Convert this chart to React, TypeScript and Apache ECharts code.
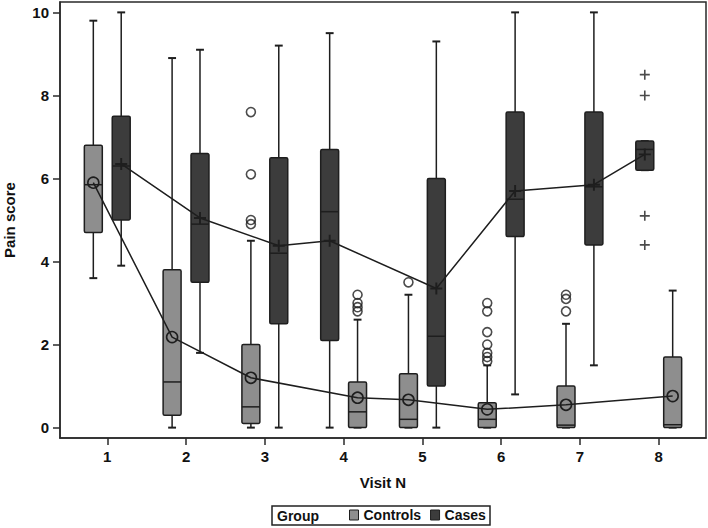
import React, { useEffect, useRef } from "react";
import * as echarts from "echarts";

const visits = [1, 2, 3, 4, 5, 6, 7, 8];
const visitTickLabels = ["1", "2", "3", "4", "5", "6", "7", "8"];
const painTicks = [0, 2, 4, 6, 8, 10];
// true when the Cases box sits to the left of the Controls box at that visit
const casesLeft = [false, false, false, true, false, false, false, true];

const controlsWhiskerLow = [3.6, 0, 0, 0, 0, 0, 0, 0];
const controlsQ1 = [4.7, 0.3, 0.1, 0, 0, 0, 0, 0];
const controlsMedian = [5.85, 1.1, 0.5, 0.38, 0.2, 0.2, 0.06, 0.07];
const controlsQ3 = [6.8, 3.8, 2.0, 1.1, 1.3, 0.6, 1.0, 1.7];
const controlsWhiskerHigh = [9.8, 8.9, 4.5, 2.6, 3.2, 1.5, 2.5, 3.3];
const controlsMean = [5.9, 2.18, 1.2, 0.72, 0.67, 0.44, 0.55, 0.76];
const controlsOutliers = [
  [],
  [],
  [7.6, 6.1, 5.0, 4.9],
  [3.2, 3.0, 2.9, 2.8],
  [3.5],
  [3.0, 2.8, 2.3, 2.0, 1.8, 1.7, 1.6],
  [3.2, 3.1, 2.8],
  [],
];

const casesWhiskerLow = [3.9, 1.8, 0, 0, 0, 0.8, 1.5, 6.2];
const casesQ1 = [5.0, 3.5, 2.5, 2.1, 1.0, 4.6, 4.4, 6.2];
const casesMedian = [6.3, 4.9, 4.2, 5.2, 2.2, 5.5, 5.8, 6.7];
const casesQ3 = [7.5, 6.6, 6.5, 6.7, 6.0, 7.6, 7.6, 6.9];
const casesWhiskerHigh = [10, 9.1, 9.2, 9.5, 9.3, 10, 10, 6.9];
const casesMean = [6.35, 5.05, 4.38, 4.5, 3.35, 5.7, 5.85, 6.58];
const casesOutliers = [[], [], [], [], [], [], [], [8.5, 8.0, 5.1, 4.4]];

const GROUP_OFFSET = 0.177;
const FONT = "'Liberation Sans', Arial, sans-serif";
const CONTROLS_FILL = "#8e8e8e";
const CASES_FILL = "#3c3c3c";
const STROKE = "#1e1e1e";
const PLUS = "path://M4.2,0 H5.8 V4.2 H10 V5.8 H5.8 V10 H4.2 V5.8 H0 V4.2 H4.2 Z";

function pos(i: number, group: "controls" | "cases") {
  const left = group === "cases" ? casesLeft[i] : !casesLeft[i];
  return visits[i] + (left ? -GROUP_OFFSET : GROUP_OFFSET);
}

function boxRender(fill: string) {
  return (params: any, api: any) => {
    const x = api.value(0);
    const lo = api.coord([x, api.value(1)]);
    const q1 = api.coord([x, api.value(2)]);
    const med = api.coord([x, api.value(3)]);
    const q3 = api.coord([x, api.value(4)]);
    const hi = api.coord([x, api.value(5)]);
    const unit = api.size([1, 0])[0];
    const bw = unit * 0.228;
    const cw = unit * 0.1;
    const cx = lo[0];
    const ls = { stroke: STROKE, lineWidth: 1.5 };
    return {
      type: "group",
      children: [
        { type: "line", shape: { x1: cx, y1: hi[1], x2: cx, y2: q3[1] }, style: ls },
        { type: "line", shape: { x1: cx, y1: q1[1], x2: cx, y2: lo[1] }, style: ls },
        { type: "line", shape: { x1: cx - cw / 2, y1: hi[1], x2: cx + cw / 2, y2: hi[1] }, style: { stroke: STROKE, lineWidth: 2 } },
        { type: "line", shape: { x1: cx - cw / 2, y1: lo[1], x2: cx + cw / 2, y2: lo[1] }, style: { stroke: STROKE, lineWidth: 2 } },
        {
          type: "rect",
          shape: { x: cx - bw / 2, y: q3[1], width: bw, height: Math.max(q1[1] - q3[1], 0.5), r: 1.5 },
          style: { fill, stroke: STROKE, lineWidth: 1.5 },
        },
        { type: "line", shape: { x1: cx - bw / 2, y1: med[1], x2: cx + bw / 2, y2: med[1] }, style: ls },
      ],
    };
  };
}

export default function App() {
  const ref = useRef<HTMLDivElement>(null);
  useEffect(() => {
    if (!ref.current) return;
    const chart = echarts.init(ref.current, undefined, { renderer: "svg" });

    const controlsBox = visits.map((v, i) => [
      pos(i, "controls"),
      controlsWhiskerLow[i],
      controlsQ1[i],
      controlsMedian[i],
      controlsQ3[i],
      controlsWhiskerHigh[i],
    ]);
    const casesBox = visits.map((v, i) => [
      pos(i, "cases"),
      casesWhiskerLow[i],
      casesQ1[i],
      casesMedian[i],
      casesQ3[i],
      casesWhiskerHigh[i],
    ]);
    const controlsMeanData = visits.map((v, i) => [pos(i, "controls"), controlsMean[i]]);
    const casesMeanData = visits.map((v, i) => [pos(i, "cases"), casesMean[i]]);
    const controlsOutData: number[][] = [];
    controlsOutliers.forEach((arr, i) => arr.forEach((val) => controlsOutData.push([pos(i, "controls"), val])));
    const casesOutData: number[][] = [];
    casesOutliers.forEach((arr, i) => arr.forEach((val) => casesOutData.push([pos(i, "cases"), val])));

    const labelStyle = { color: "#111", fontFamily: FONT, fontSize: 15, fontWeight: "bold" as const };

    chart.setOption({
      animation: false,
      backgroundColor: "#ffffff",
      textStyle: { fontFamily: FONT },
      grid: {
        left: 60,
        right: 2,
        top: 2,
        bottom: 90,
        containLabel: false,
        outerBoundsMode: "none",
        show: true,
        borderColor: "#2a2a2a",
        borderWidth: 1.5,
        backgroundColor: "transparent",
      },
      xAxis: {
        type: "value",
        min: 0.4,
        max: 8.6,
        name: "Visit N",
        nameLocation: "middle",
        nameGap: 37,
        nameTextStyle: { ...labelStyle, fontSize: 15 },
        axisLine: { onZero: false, lineStyle: { color: "#2a2a2a", width: 1.5 } },
        axisTick: { show: true, length: 7, customValues: visits, lineStyle: { color: "#2a2a2a", width: 1.5 } },
        axisLabel: {
          ...labelStyle,
          margin: 11,
          customValues: visits,
          formatter: (v: number) => visitTickLabels[visits.indexOf(v)] ?? "",
        },
        splitLine: { show: false },
      },
      yAxis: {
        type: "value",
        min: -0.25,
        max: 10.25,
        name: "Pain score",
        nameLocation: "middle",
        nameGap: 43,
        nameTextStyle: { ...labelStyle, fontSize: 15 },
        axisLine: { show: true, onZero: false, lineStyle: { color: "#2a2a2a", width: 1.5 } },
        axisTick: { show: true, length: 7, customValues: painTicks, lineStyle: { color: "#2a2a2a", width: 1.5 } },
        axisLabel: { ...labelStyle, margin: 11, customValues: painTicks },
        splitLine: { show: false },
      },
      legend: {
        left: 344,
        top: 503,
        itemWidth: 9,
        itemHeight: 10,
        itemGap: 9,
        selectedMode: false,
        textStyle: { ...labelStyle, fontSize: 14 },
        data: [
          { name: "Controls", icon: "rect", itemStyle: { color: CONTROLS_FILL, borderColor: STROKE, borderWidth: 1 } },
          { name: "Cases", icon: "rect", itemStyle: { color: CASES_FILL, borderColor: STROKE, borderWidth: 1 } },
        ],
      },
      graphic: [
        {
          type: "rect",
          shape: { x: 272, y: 506, width: 218, height: 19 },
          style: { fill: "none", stroke: "#222", lineWidth: 1.5 },
          silent: true,
        },
        {
          type: "text",
          x: 277,
          y: 515.5,
          style: { text: "Group", fill: "#111", font: `bold 14px ${FONT}`, verticalAlign: "middle" },
          silent: true,
        },
      ],
      series: [
        {
          name: "Controls",
          type: "custom",
          renderItem: boxRender(CONTROLS_FILL),
          itemStyle: { color: CONTROLS_FILL },
          encode: { x: 0, y: [1, 2, 3, 4, 5] },
          data: controlsBox,
          z: 2,
        },
        {
          name: "Cases",
          type: "custom",
          renderItem: boxRender(CASES_FILL),
          itemStyle: { color: CASES_FILL },
          encode: { x: 0, y: [1, 2, 3, 4, 5] },
          data: casesBox,
          z: 2,
        },
        {
          name: "Controls mean",
          type: "line",
          data: controlsMeanData,
          symbol: "circle",
          symbolSize: 11,
          itemStyle: { color: "transparent", borderColor: STROKE, borderWidth: 1.6 },
          lineStyle: { color: STROKE, width: 1.5 },
          z: 5,
        },
        {
          name: "Cases mean",
          type: "line",
          data: casesMeanData,
          symbol: PLUS,
          symbolSize: 12,
          itemStyle: { color: STROKE },
          lineStyle: { color: STROKE, width: 1.5 },
          z: 5,
        },
        {
          name: "Controls outliers",
          type: "scatter",
          data: controlsOutData,
          symbol: "circle",
          symbolSize: 9,
          itemStyle: { color: "transparent", borderColor: STROKE, borderWidth: 1.6 },
          z: 4,
        },
        {
          name: "Cases outliers",
          type: "scatter",
          data: casesOutData,
          symbol: PLUS,
          symbolSize: 10,
          itemStyle: { color: STROKE },
          z: 4,
        },
      ],
    });
    return () => chart.dispose();
  }, []);
  return (
    <div
      ref={ref}
      style={{ position: "absolute", left: 0, top: 0, width: 708, height: 528, background: "#fff" }}
    />
  );
}
